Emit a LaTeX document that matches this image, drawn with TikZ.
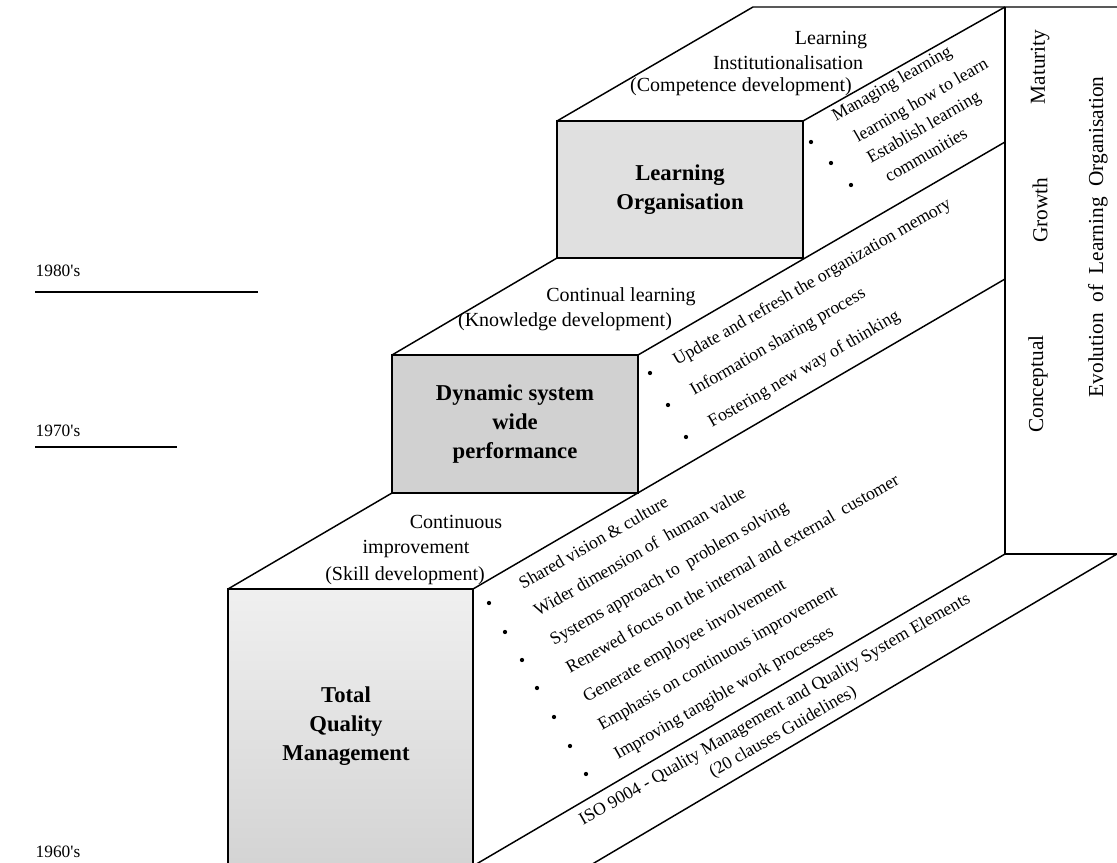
\documentclass[tikz,border=0pt]{standalone}
\usepackage{fontspec}
\setmainfont{Liberation Serif}
\setmonofont{Liberation Serif}
\usetikzlibrary{calc}
\begin{document}
\begin{tikzpicture}[x=0.75pt,y=-0.75pt,
  edge/.style={line width=1.1pt, line join=round},
  boxline/.style={line width=1.5pt},
  title/.style={align=center, font=\bfseries\fontsize{17}{21.5}\selectfont, inner sep=0pt},
  facetext/.style={inner sep=0pt, font=\fontsize{15}{18}\selectfont},
  sidetext/.style={inner sep=0pt, anchor=base west, rotate=30, font=\fontsize{13.3}{16}\selectfont},
  paneltext/.style={inner sep=0pt, rotate=90, font=\fontsize{16}{19}\selectfont},
  yeartext/.style={inner sep=0pt, font=\ttfamily\fontsize{13}{16}\selectfont},
  dot/.style={circle, fill=black, inner sep=0pt, minimum size=3.2pt}]
\useasboundingbox (0,0) rectangle (1117,863);

% ---- corner coordinates ----
\coordinate (TB1) at (753,7);
\coordinate (TB2) at (1005,7);
\coordinate (TBend) at (1117,7);
\coordinate (LO1) at (557,121);
\coordinate (LO2) at (803,258);
\coordinate (LOtr) at (803,121);
\coordinate (DS1) at (392,355);
\coordinate (DS2) at (638,493);
\coordinate (DStr) at (638,355);
\coordinate (DSbl) at (392,493);
\coordinate (LObl) at (557,258);
\coordinate (TQ1) at (228,589);
\coordinate (TQ2) at (473,866);
\coordinate (TQtr) at (473,589);
\coordinate (P1) at (1005,142);
\coordinate (P2) at (1005,279);
\coordinate (P3) at (1005,554);
\coordinate (P4) at (1117,554);
\coordinate (Bend) at (589,866);

% ---- shaded boxes ----
\fill[black!12] (LO1) rectangle (LO2);
\fill[black!18] (DS1) rectangle (DS2);
\shade[top color=black!6, bottom color=black!17] (TQ1) rectangle (TQ2);

% ---- structure lines ----
\draw[edge] (LO1) -- (TB1) -- (TBend);
\draw[edge] (LOtr) -- (TB2);
\draw[edge] (TB2) -- (P3) -- (P4);
\draw[edge] (DStr) -- (P1);
\draw[edge] (TQtr) -- (P2);
\draw[edge] (DS1) -- (LObl);
\draw[edge] (TQ1) -- (DSbl);
\draw[edge] (TQ2) -- (P3);
\draw[edge] (Bend) -- (P4);
\draw[boxline] (LO1) rectangle (LO2);
\draw[boxline] (DS1) rectangle (DS2);
\draw[boxline] (TQ1) rectangle (TQ2);

% ---- box titles ----
\node[title] (lotitle) at ($(LO1)!0.5!(LO2)$) {Learning\\Organisation};
\node[title] (dstitle) at ($(DS1)!0.5!(DS2)$) {Dynamic system\\wide\\performance};
\node[title] (tqtitle) at (346,726) {Total\\Quality\\Management};

% ---- top face texts ----
\node[facetext] (f1) at (831,40) {Learning};
\node[facetext] (f2) at (788,63) {Institutionalisation};
\node[facetext] (f3) at (741,87) {(Competence development)};
\node[facetext] (f4) at (621,297) {Continual learning};
\node[facetext] (f5) at (565,322) {(Knowledge development)};
\node[facetext] (f6) at (456,522) {Continuous};
\node[facetext] (f7) at (416,549) {improvement};
\node[facetext] (f8) at (405,576) {(Skill development)};

% ---- side texts: Learning Organisation ----
\node[sidetext] (s1) at (836,122) {Managing learning};
\node[sidetext] (s2) at (858,143) {learning how to learn};
\node[sidetext] (s3) at (871,164) {Establish learning};
\node[sidetext] (s4) at (889,183) {communities};
\node[dot] (d1) at (811,142) {};
\node[dot] (d2) at (831,163) {};
\node[dot] (d3) at (851,185) {};

% ---- side texts: Dynamic system ----
\node[sidetext] (s5) at (677,366) {Update and refresh the organization memory};
\node[sidetext] (s6) at (694,396) {Information sharing process};
\node[sidetext] (s7) at (712,428) {Fostering new way of thinking};
\node[dot] (d4) at (650,373) {};
\node[dot] (d5) at (668,405) {};
\node[dot] (d6) at (686,437) {};

% ---- side texts: TQM ----
\node[sidetext] (s8) at (523,590) {Shared vision \& culture};
\node[sidetext] (s9) at (538,617) {Wider dimension of\ \ human value};
\node[sidetext] (s10) at (554,646) {Systems approach to\ \ problem solving};
\node[sidetext] (s11) at (570,674) {Renewed focus on the internal and external\ \ customer};
\node[sidetext] (s12) at (587,703) {Generate employee involvement};
\node[sidetext] (s13) at (602,731) {Emphasis on continuous improvement};
\node[sidetext] (s14) at (618,760) {Improving tangible work processes};
\node[sidetext] (s15) at (583,826) {ISO 9004 - Quality Management and Quality System Elements};
\node[sidetext] (s16) at (713,778) {(20 clauses Guidelines)};
\node[dot] (d7) at (489,603) {};
\node[dot] (d8) at (505,632) {};
\node[dot] (d9) at (522,660) {};
\node[dot] (d10) at (537,688) {};
\node[dot] (d11) at (554,717) {};
\node[dot] (d12) at (570,746) {};
\node[dot] (d13) at (586,774) {};

% ---- right panel ----
\node[paneltext] (p1) at (1040,67) {Maturity};
\node[paneltext] (p2) at (1040,210) {Growth};
\node[paneltext] (p3) at (1038,384) {Conceptual};
\node[paneltext] (p4) at (1098,237) {Evolution\ \ of\ \ Learning\ \ Organisation};

% ---- years ----
\node[yeartext] (y1) at (58,271) {1980's};
\node[yeartext] (y2) at (58,431) {1970's};
\node[yeartext] (y3) at (58,852) {1960's};
\coordinate (y1a) at (35,292);
\coordinate (y1b) at (258,292);
\coordinate (y2a) at (35,447);
\coordinate (y2b) at (177,447);
\draw[edge] (y1a) -- (y1b);
\draw[edge] (y2a) -- (y2b);
\end{tikzpicture}
\end{document}
